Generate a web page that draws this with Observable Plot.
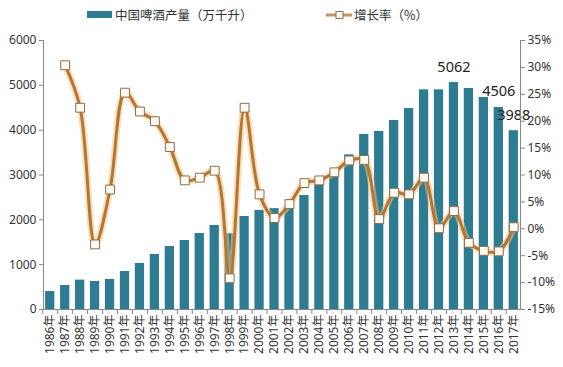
<!DOCTYPE html>
<html>
<head>
<meta charset="utf-8">
<script src="https://cdn.jsdelivr.net/npm/d3@7"></script>
<script src="https://cdn.jsdelivr.net/npm/@observablehq/plot@0.6"></script>
<style>
  html, body { margin: 0; padding: 0; background: #fff; }
  #wrap { position: relative; width: 563px; height: 367px; font-family: "Noto Sans", "Noto Sans CJK SC", sans-serif; color: #333; }
  #chart { position: absolute; left: 0; top: 0; }
  .leg { position: absolute; font-size: 12.5px; line-height: 14px; white-space: nowrap; font-family: "Noto Sans CJK SC", sans-serif; color: #333; }
</style>
</head>
<body>
<div id="wrap">
  <div id="chart"></div>
  <div class="leg" style="left:87px;top:11px;width:25px;height:7px;background:#2e7c91;"></div>
  <div class="leg" style="left:115px;top:8px;">中国啤酒产量（万千升）</div>
  <svg class="leg" style="left:326px;top:10px;" width="26" height="10">
    <line x1="0" y1="5" x2="26" y2="5" stroke="#c29363" stroke-width="3"></line>
    <rect x="10" y="1.5" width="7" height="7" fill="#fffaf2" stroke="#8f6d4c" stroke-width="1"></rect>
  </svg>
  <div class="leg" style="left:354px;top:8px;">增长率（%）</div>
</div>
<script>
const years = ["1986年","1987年","1988年","1989年","1990年","1991年","1992年","1993年","1994年","1995年","1996年","1997年","1998年","1999年","2000年","2001年","2002年","2003年","2004年","2005年","2006年","2007年","2008年","2009年","2010年","2011年","2012年","2013年","2014年","2015年","2016年","2017年"];
const output = [400, 535, 655, 625, 670, 848, 1026, 1227, 1405, 1539, 1695, 1873, 1690, 2075, 2209, 2250, 2270, 2543, 2780, 3040, 3450, 3904, 3970, 4216, 4483, 4900, 4900, 5062, 4930, 4730, 4506, 3988];
const growth = [null, 30.4, 22.5, -2.9, 7.3, 25.3, 21.8, 20.0, 15.2, 9.0, 9.5, 10.8, -9.2, 22.5, 6.4, 2.0, 4.6, 8.5, 9.0, 10.5, 12.7, 12.8, 1.8, 6.7, 6.4, 9.5, 0.1, 3.3, -2.6, -4.1, -4.2, 0.3];
const labelYears = ["2013年", "2016年", "2017年"];
const leftTicks = [0, 1000, 2000, 3000, 4000, 5000, 6000];
const pctTicks = [-15, -10, -5, 0, 5, 10, 15, 20, 25, 30, 35];

const pctMin = -15, pctMax = 35, yMax = 6000;
const pct2y = p => (p - pctMin) * yMax / (pctMax - pctMin);

const data = years.map((year, i) => ({year, output: output[i], growth: growth[i]}));
const lineData = data.filter(d => d.growth != null);
const labelData = data.filter(d => labelYears.includes(d.year));

const width = 563, height = 367, mL = 43, mR = 43;
const pIn = 0.38, pOut = 0.14;
const step = (width - mL - mR) / (years.length - pIn + 2 * pOut);

const barColor = "#2e7c91";
const font = "'Noto Sans', 'Noto Sans CJK SC', sans-serif";

const chart = Plot.plot({
  width, height,
  marginTop: 40, marginBottom: 58, marginLeft: mL, marginRight: mR,
  style: {fontFamily: font, fontSize: "12px", color: "#333", background: "transparent"},
  x: {type: "band", domain: years, paddingInner: pIn, paddingOuter: pOut, axis: null},
  y: {domain: [0, yMax], axis: null},
  marks: [
    Plot.barY(data, {x: "year", y: "output", fill: barColor}),
    Plot.line(lineData, {x: "year", y: d => pct2y(d.growth), curve: "catmull-rom", stroke: "#f6c57c", strokeWidth: 7, strokeOpacity: 0.55}),
    Plot.line(lineData, {x: "year", y: d => pct2y(d.growth), curve: "catmull-rom", stroke: "#b27638", strokeWidth: 3}),
    Plot.dot(lineData, {x: "year", y: d => pct2y(d.growth), symbol: "square", r: 5, fill: "#fffaf2", stroke: "#8f6d4c", strokeWidth: 1}),
    Plot.text(labelData, {x: "year", y: "output", text: d => String(d.output), dy: -11, lineAnchor: "bottom", fontSize: 14.5, fill: "#222"}),
    Plot.frame({anchor: "left", stroke: "#888"}),
    Plot.frame({anchor: "right", stroke: "#888"}),
    Plot.frame({anchor: "bottom", stroke: "#888"}),
    Plot.axisY({anchor: "left", label: null, ticks: leftTicks, tickFormat: d => String(d), tickSize: 4, tickPadding: 3, fontSize: 12, stroke: "#888", fill: "#333"}),
    Plot.axisY({anchor: "right", label: null, ticks: pctTicks.map(pct2y), tickFormat: d => `${Math.round(d * (pctMax - pctMin) / yMax + pctMin)}%`, tickSize: 4, tickPadding: 3, fontSize: 12, stroke: "#888", fill: "#333"}),
    Plot.axisX({anchor: "bottom", label: null, tickSize: 5, tickFormat: () => "", dx: -step / 2, stroke: "#888"}),
    Plot.axisX({anchor: "bottom", label: null, tickSize: 0, tickPadding: 5, tickRotate: -90, fontSize: 12, fill: "#333"})
  ]
});
document.getElementById("chart").appendChild(chart);
</script>
</body>
</html>
